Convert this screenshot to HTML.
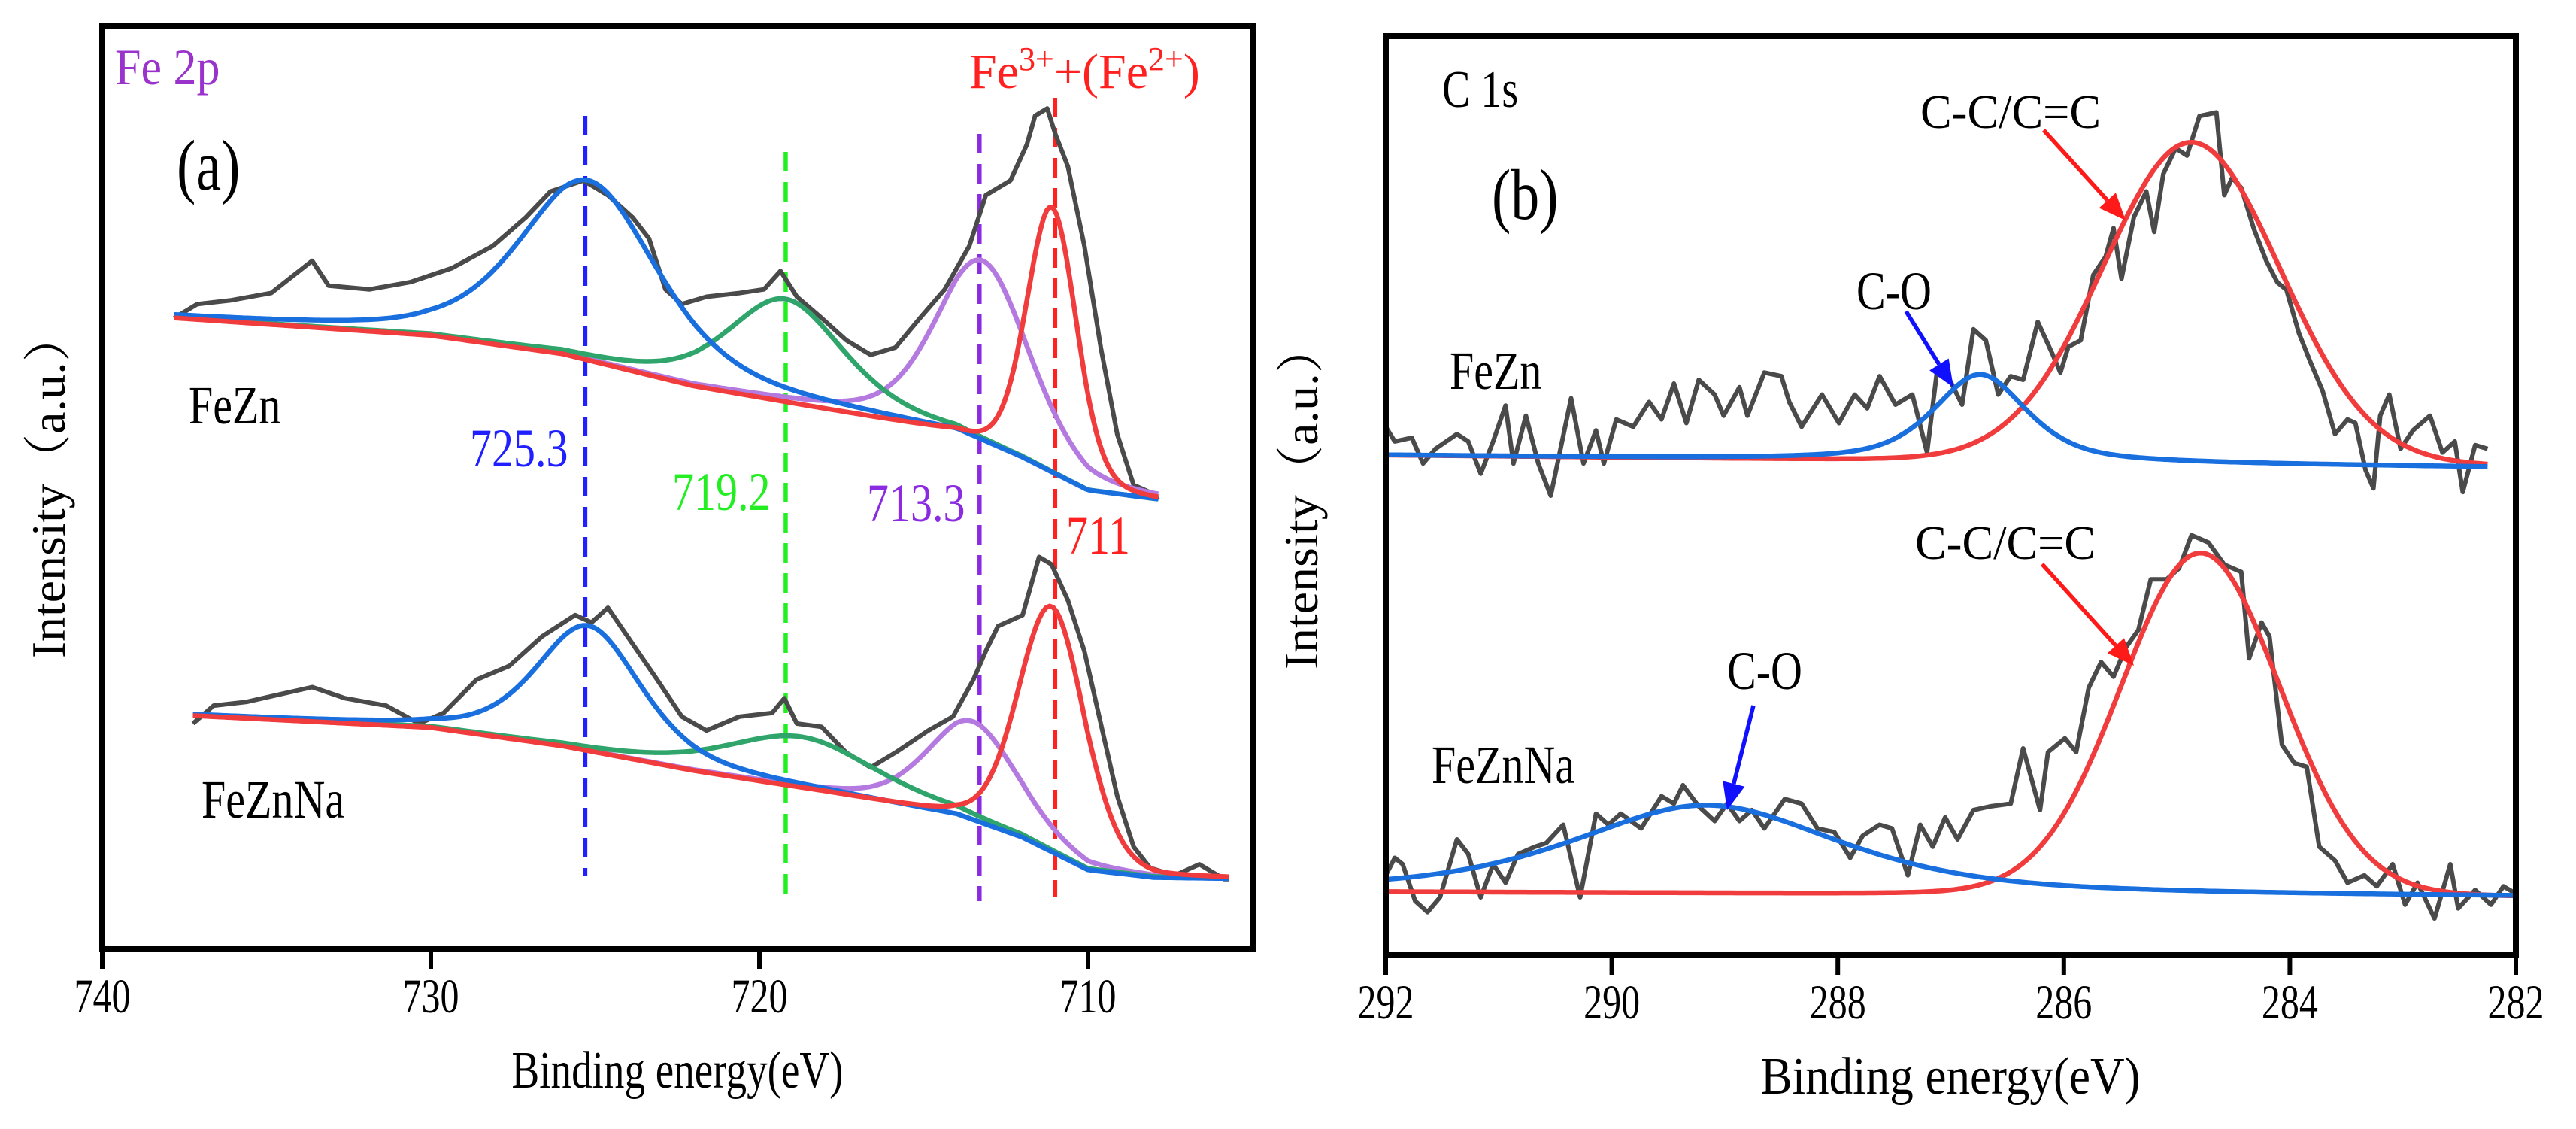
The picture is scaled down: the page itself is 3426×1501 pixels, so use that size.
<!DOCTYPE html>
<html><head><meta charset="utf-8"><style>
html,body{margin:0;padding:0;background:#fff;}
svg{display:block;}
text{font-family:"Liberation Serif","Noto Serif CJK SC",serif;}
</style></head><body>
<svg id="fig" width="3426" height="1501" viewBox="0 0 3426 1501" xmlns="http://www.w3.org/2000/svg">
<rect width="3426" height="1501" fill="#fff"/>
<g id="pa"></g>
<g id="pb"></g>
</svg>
<script>
// ---------- Panel A data (Fe 2p) ----------
const aTicks = [740, 730, 720, 710];
const aTickLabels = ["740", "730", "720", "710"];
const aFeZnE = [737.81,737.11,736.11,734.86,733.61,733.11,731.86,730.61,729.36,728.11,727.11,726.36,725.36,724.61,723.86,723.36,722.86,722.36,721.61,720.61,719.86,719.36,718.86,718.11,717.36,716.61,715.86,715.11,714.36,713.61,713.11,712.36,711.86,711.61,711.24,710.99,710.61,710.11,709.61,709.11,708.61,708.11,707.86];
const aFeZnI = [68.4,69.9,70.3,71.1,74.6,71.9,71.5,72.3,73.8,76.2,79.3,82.1,83.3,81.7,79.3,77.0,71.5,69.9,70.7,71.1,71.5,73.5,70.7,68.4,66.0,64.4,65.2,68.4,71.5,76.2,81.7,83.3,87.2,90.3,91.1,88.3,84.8,76.2,65.2,55.8,50.3,49.5,48.7];
const aFeZnNaE = [737.24,736.61,735.61,734.61,733.61,732.61,731.36,730.36,729.61,728.61,727.61,726.61,725.61,725.11,724.61,723.86,723.11,722.36,721.61,720.61,719.61,719.24,718.86,718.11,717.36,716.61,715.86,714.86,714.11,713.49,713.11,712.74,711.99,711.49,711.11,710.61,710.11,709.61,709.11,708.61,708.11,707.36,706.61,705.86,705.7];
const aFeZnNaI = [24.45,26.4,26.8,27.6,28.4,27.2,26.4,24.45,25.6,29.2,30.7,33.9,36.2,35.4,37.0,33.1,29.2,25.2,23.7,25.2,25.6,27.2,24.45,24.1,21.3,19.7,21.3,23.7,25.2,29.2,32.3,35.0,36.2,42.5,41.7,37.8,32.3,24.45,16.6,11.1,8.8,8.0,9.2,7.6,7.6];
const aBgFeZnE = [737.8,730,726,722,718,714,712,710,707.9];
const aBgFeZnI = [68.4,66.5,64.5,61,58.5,56,53,49.5,48.6];
const aBgFeZnNaE = [737.2,730,726,722,718,714,712,710,708,705.7];
const aBgFeZnNaI = [25.3,24,22,19.3,17,14.5,12,8.5,7.7,7.6];
const aPeakNames = ["blue-725", "green-719", "purple-713", "red-711"];
const aFeZnCenters = [725.2, 719.2, 713.2, 711.1];
const aFeZnHeights = [19.5, 11.2, 19.8, 29];
const aFeZnWidths = [5.0, 4.2, 3.4, 1.8];
const aFeZnNaCenters = [725.2, 718.7, 713.5, 711.1];
const aFeZnNaHeights = [13.6, 5.6, 10.8, 26.7];
const aFeZnNaWidths = [3.8, 5.5, 3.3, 2.4];
const aEta = [0.5, 0.5, 0.4, 0.2];
const aPeakColors = ["#1a6fdf", "#2fa56c", "#b47ae0", "#f03c3c"];
const aMarkers = [725.3, 719.2, 713.3, 711];
const aMarkerLabels = ["725.3", "719.2", "713.3", "711"];

// ---------- Panel B data (C 1s) ----------
const bTicks = [292, 290, 288, 286, 284, 282];
const bTickLabels = ["292", "290", "288", "286", "284", "282"];
const bFeZnE = [292.0,291.92,291.77,291.67,291.56,291.37,291.27,291.16,291.05,290.94,290.87,290.76,290.65,290.54,290.36,290.25,290.14,290.07,289.96,289.81,289.67,289.56,289.45,289.34,289.23,289.09,289.01,288.87,288.80,288.65,288.50,288.43,288.32,288.14,287.99,287.85,287.74,287.63,287.49,287.34,287.21,287.12,287.01,286.90,286.80,286.69,286.58,286.47,286.36,286.23,286.10,286.03,285.96,285.85,285.74,285.63,285.56,285.49,285.38,285.27,285.20,285.12,285.01,284.91,284.80,284.65,284.58,284.51,284.43,284.32,284.21,284.11,284.03,283.92,283.82,283.71,283.60,283.49,283.42,283.33,283.26,283.20,283.12,283.02,282.91,282.76,282.65,282.54,282.47,282.36,282.25];
const bFeZnI = [57.5,55.9,56.3,53.5,55.1,56.7,55.9,52.4,55.9,59.8,53.5,58.7,53.5,50.0,60.6,53.5,57.1,53.5,58.3,57.5,60.2,58.3,62.2,57.9,62.6,61.0,58.7,61.8,58.7,63.4,63.0,60.2,57.5,61.0,57.9,61.0,59.5,63.0,59.9,61.0,54.7,63.8,62.6,59.9,68.1,66.9,61.0,63.0,62.6,68.9,65.4,63.4,66.2,66.9,74.0,76.0,79.1,73.6,80.3,83.1,78.7,85.0,87.8,87.0,91.3,91.7,82.7,84.6,83.5,79.1,75.6,73.2,72.4,67.7,64.6,61.4,56.7,58.3,57.9,52.8,50.8,58.7,61.0,55.1,57.1,58.7,54.7,55.9,50.4,55.5,55.1];
const bFeZnNaE = [292.0,291.92,291.85,291.74,291.63,291.52,291.37,291.27,291.16,291.05,290.94,290.83,290.68,290.58,290.43,290.28,290.14,290.03,289.92,289.74,289.56,289.45,289.37,289.23,289.09,288.98,288.87,288.76,288.65,288.47,288.32,288.18,288.03,287.89,287.78,287.63,287.52,287.38,287.27,287.16,287.05,286.94,286.80,286.65,286.47,286.36,286.21,286.14,285.99,285.89,285.78,285.67,285.56,285.45,285.34,285.23,285.09,284.98,284.87,284.72,284.58,284.43,284.36,284.25,284.18,284.07,283.96,283.85,283.74,283.60,283.49,283.34,283.23,283.09,282.98,282.87,282.72,282.58,282.51,282.36,282.22,282.11,282.00];
const bFeZnNaI = [8.7,10.6,9.9,5.9,4.7,6.3,12.6,11.0,6.3,9.9,7.9,11.0,11.8,12.2,14.2,6.3,15.4,14.2,15.4,13.8,17.3,16.5,18.5,16.2,14.6,16.5,14.6,15.8,13.8,17.0,16.5,13.8,13.4,10.6,13.0,14.2,13.8,8.7,14.2,11.8,15.0,12.6,15.8,16.2,16.5,22.5,15.8,22.1,23.6,22.1,29.1,31.9,30.3,33.5,35.4,40.9,40.9,42.1,45.7,44.9,42.5,41.7,32.3,36.2,34.7,22.9,20.9,20.5,11.8,10.3,7.9,8.7,7.5,9.9,5.5,7.9,4.0,9.9,5.1,7.1,5.5,7.5,6.7];
const bBgFeZnE = [292.0, 282.25];
const bBgFeZnI = [54.4, 53.1];
const bBgFeZnNaE = [292.0, 282.0];
const bBgFeZnNaI = [6.9, 6.3];
const bPeakNames = ["c-o", "c-c"];
const bFeZnCenters = [286.74, 284.87];
const bFeZnHeights = [9.5, 35];
const bFeZnWidths = [0.98, 1.86];
const bFeZnNaCenters = [289.16, 284.79];
const bFeZnNaHeights = [9.6, 37.3];
const bFeZnNaWidths = [2.8, 1.67];
const bEta = [0.6, 0.05];
const bPeakColors = ["#1a6fdf", "#f03c3c"];

// ---------- helpers ----------
const NS = "http://www.w3.org/2000/svg";
function mk(parent, tag, attrs, txt) {
  const e = document.createElementNS(NS, tag);
  for (const k in attrs) e.setAttribute(k, attrs[k]);
  if (txt !== undefined) e.textContent = txt;
  parent.appendChild(e);
  return e;
}
function interp(xs, ys, x) {
  if (x >= xs[0]) return ys[0];
  if (x <= xs[xs.length - 1]) return ys[ys.length - 1];
  for (let i = 0; i < xs.length - 1; i++) {
    if (x <= xs[i] && x >= xs[i + 1]) {
      const t = (x - xs[i]) / (xs[i + 1] - xs[i]);
      return ys[i] + t * (ys[i + 1] - ys[i]);
    }
  }
  return ys[0];
}
function pv(x, c, h, w, eta) {
  const d = (x - c) / w;
  return h * (eta / (1 + 4 * d * d) + (1 - eta) * Math.exp(-4 * Math.LN2 * d * d));
}
function poly(parent, xs, ys, sx, sy, color, width, name) {
  let d = "";
  for (let i = 0; i < xs.length; i++) d += (i ? "L" : "M") + sx(xs[i]).toFixed(1) + "," + sy(ys[i]).toFixed(1);
  const p = mk(parent, "path", {d: d, fill: "none", stroke: color, "stroke-width": width, "stroke-linejoin": "round"});
  
  
  return p;
}
function component(parent, e0, e1, bgE, bgI, c, h, w, eta, sx, sy, color, name) {
  const xs = [], ys = [];
  const n = 300;
  for (let i = 0; i <= n; i++) {
    const e = e0 + (e1 - e0) * i / n;
    xs.push(e);
    ys.push(interp(bgE, bgI, e) + pv(e, c, h, w, eta));
  }
  poly(parent, xs, ys, sx, sy, color, 6.5, name);
}
// Tall, condensed text: larger font-size squeezed back to the natural width
function label(parent, x, y, txt, size, color, name, extra, stretch) {
  const st = stretch === undefined ? 1.25 : stretch;
  const a = {x: x, y: y, "font-size": size, fill: color};
  if (extra) for (const k in extra) a[k] = extra[k];
  const t = mk(parent, "text", a, txt);
  
  
  if (st !== 1 && !(extra && extra.textLength)) {
    const w = t.getComputedTextLength();
    t.setAttribute("font-size", size * st);
    if (w > 0) {
      t.setAttribute("textLength", w.toFixed(1));
      t.setAttribute("lengthAdjust", "spacingAndGlyphs");
    }
  }
  return t;
}
function frameAxes(g, L, T, R, B, ticks, tickLabels, sx, panel) {
  const fr = mk(g, "rect", {x: L, y: T, width: R - L, height: B - T, fill: "none", stroke: "#000", "stroke-width": 8});
  
  
  for (let i = 0; i < ticks.length; i++) {
    const x = sx(ticks[i]);
    const tk = mk(g, "line", {x1: x, y1: B, x2: x, y2: B + 26, stroke: "#000", "stroke-width": 6});
    
    
    label(g, x, B + 84, tickLabels[i], 50, "#000", panel + '-x-tick-label', {"text-anchor": "middle"}, 1.3);
  }
}

// ---------- Panel A ----------
(function () {
  const g = document.getElementById("pa");
  const L = 136, T = 35, R = 1666, B = 1262;
  const sx = e => 136 + (740 - e) * 43.7;
  const sy = v => B - v * (B - T) / 100;
  const mTop = [154, 202, 178, 130], mBot = [1164, 1188, 1198, 1193];
  const mColors = ["#1f1fff", "#22ee22", "#8a2be2", "#ff2020"];
  for (let i = 0; i < aMarkers.length; i++) {
    const l = mk(g, "line", {x1: sx(aMarkers[i]), y1: mTop[i], x2: sx(aMarkers[i]), y2: mBot[i], stroke: mColors[i], "stroke-width": 5.5, "stroke-dasharray": "26,14"});
    
    
  }
  poly(g, aFeZnE, aFeZnI, sx, sy, "#4a4a4a", 6, "fezn-raw-spectrum");
  poly(g, aFeZnNaE, aFeZnNaI, sx, sy, "#4a4a4a", 6, "feznna-raw-spectrum");
  const order = [2, 1, 0, 3];
  for (const i of order) {
    component(g, aFeZnE[0], aFeZnE[aFeZnE.length - 1], aBgFeZnE, aBgFeZnI, aFeZnCenters[i], aFeZnHeights[i], aFeZnWidths[i], aEta[i], sx, sy, aPeakColors[i], 'fezn-fit-' + aPeakNames[i]);
    component(g, aFeZnNaE[0], aFeZnNaE[aFeZnNaE.length - 1], aBgFeZnNaE, aBgFeZnNaI, aFeZnNaCenters[i], aFeZnNaHeights[i], aFeZnNaWidths[i], aEta[i], sx, sy, aPeakColors[i], 'feznna-fit-' + aPeakNames[i]);
  }
  frameAxes(g, L, T, R, B, aTicks, aTickLabels, sx, 'panel-a');
  label(g, 153, 112, "Fe 2p", 62, "#9933cc", "fe2p-title", {"font-family": "Liberation Sans, sans-serif"}, 1.1);
  const fe = label(g, 1289, 117, "", 66, "#ff2020", "fe-oxidation-label", undefined, 1);
  fe.innerHTML = 'Fe<tspan dy="-24" font-size="44">3+</tspan><tspan dy="24">+(Fe</tspan><tspan dy="-24" font-size="44">2+</tspan><tspan dy="24">)</tspan>';
  label(g, 235, 252, "(a)", 76, "#000", "panel-a-letter");
  label(g, 251, 563, "FeZn", 58, "#000", "fezn-label-a");
  label(g, 268, 1087, "FeZnNa", 58, "#000", "feznna-label-a");
  label(g, 625, 620, "725.3", 58, "#1f1fff", "peak-label-725");
  label(g, 894, 678, "719.2", 58, "#22ee22", "peak-label-719");
  label(g, 1153, 693, "713.3", 58, "#8a2be2", "peak-label-713");
  label(g, 1418, 736, "711", 58, "#ff2020", "peak-label-711");
  label(g, 901, 1446, "Binding energy(eV)", 70, "#000", "panel-a-x-title", {"text-anchor": "middle", textLength: 441, lengthAdjust: "spacingAndGlyphs"});
  label(g, 0, 0, "Intensity（a.u.）", 64, "#000", "panel-a-y-title", {"text-anchor": "middle", transform: "translate(86,645) rotate(-90)", textLength: 460, lengthAdjust: "spacingAndGlyphs"});
})();

// ---------- Panel B ----------
(function () {
  const g = document.getElementById("pb");
  const L = 1843, T = 48, R = 3346, B = 1270;
  const sx = e => 1843 + (292 - e) * 150.3;
  const sy = v => B - v * (B - T) / 100;
  poly(g, bFeZnE, bFeZnI, sx, sy, "#4a4a4a", 6, "fezn-c1s-raw-spectrum");
  poly(g, bFeZnNaE, bFeZnNaI, sx, sy, "#4a4a4a", 6, "feznna-c1s-raw-spectrum");
  for (const i of [1, 0]) {
    component(g, bFeZnE[0], bFeZnE[bFeZnE.length - 1], bBgFeZnE, bBgFeZnI, bFeZnCenters[i], bFeZnHeights[i], bFeZnWidths[i], bEta[i], sx, sy, bPeakColors[i], 'fezn-c1s-fit-' + bPeakNames[i]);
    component(g, bFeZnNaE[0], bFeZnNaE[bFeZnNaE.length - 1], bBgFeZnNaE, bBgFeZnNaI, bFeZnNaCenters[i], bFeZnNaHeights[i], bFeZnNaWidths[i], bEta[i], sx, sy, bPeakColors[i], 'feznna-c1s-fit-' + bPeakNames[i]);
  }
  frameAxes(g, L, T, R, B, bTicks, bTickLabels, sx, 'panel-b');
  function arrow(x1, y1, x2, y2, color, name) {
    const ang = Math.atan2(y2 - y1, x2 - x1);
    const hl = 36, hw = 15;
    const bx = x2 - hl * Math.cos(ang), by = y2 - hl * Math.sin(ang);
    const ln = mk(g, "line", {x1: x1, y1: y1, x2: bx, y2: by, stroke: color, "stroke-width": 5.5});
    
    
    const px = -Math.sin(ang) * hw, py = Math.cos(ang) * hw;
    const hd = mk(g, "polygon", {points: `${x2},${y2} ${bx + px},${by + py} ${bx - px},${by - py}`, fill: color});
    
    
  }
  arrow(2718, 173, 2827, 293, "#ff1a1a", "fezn-cc-arrow");
  arrow(2535, 414, 2598, 515, "#1010ff", "fezn-co-arrow");
  arrow(2716, 750, 2838, 885, "#ff1a1a", "feznna-cc-arrow");
  arrow(2332, 938, 2297, 1077, "#1010ff", "feznna-co-arrow");
  label(g, 1918, 142, "C 1s", 56, "#000", "c1s-title");
  label(g, 1984, 291, "(b)", 76, "#000", "panel-b-letter");
  label(g, 2554, 170, "C-C/C=C", 64, "#000", "fezn-cc-label", {textLength: 240, lengthAdjust: "spacingAndGlyphs"});
  label(g, 2469, 411, "C-O", 58, "#000", "fezn-co-label");
  label(g, 1928, 517, "FeZn", 58, "#000", "fezn-label-b");
  label(g, 2547, 743, "C-C/C=C", 64, "#000", "feznna-cc-label", {textLength: 240, lengthAdjust: "spacingAndGlyphs"});
  label(g, 2297, 916, "C-O", 58, "#000", "feznna-co-label");
  label(g, 1904, 1041, "FeZnNa", 58, "#000", "feznna-label-b");
  label(g, 2594, 1454, "Binding energy(eV)", 70, "#000", "panel-b-x-title", {"text-anchor": "middle", textLength: 505, lengthAdjust: "spacingAndGlyphs"});
  label(g, 0, 0, "Intensity（a.u.）", 64, "#000", "panel-b-y-title", {"text-anchor": "middle", transform: "translate(1752,660) rotate(-90)", textLength: 460, lengthAdjust: "spacingAndGlyphs"});
})();
</script>
</body></html>
